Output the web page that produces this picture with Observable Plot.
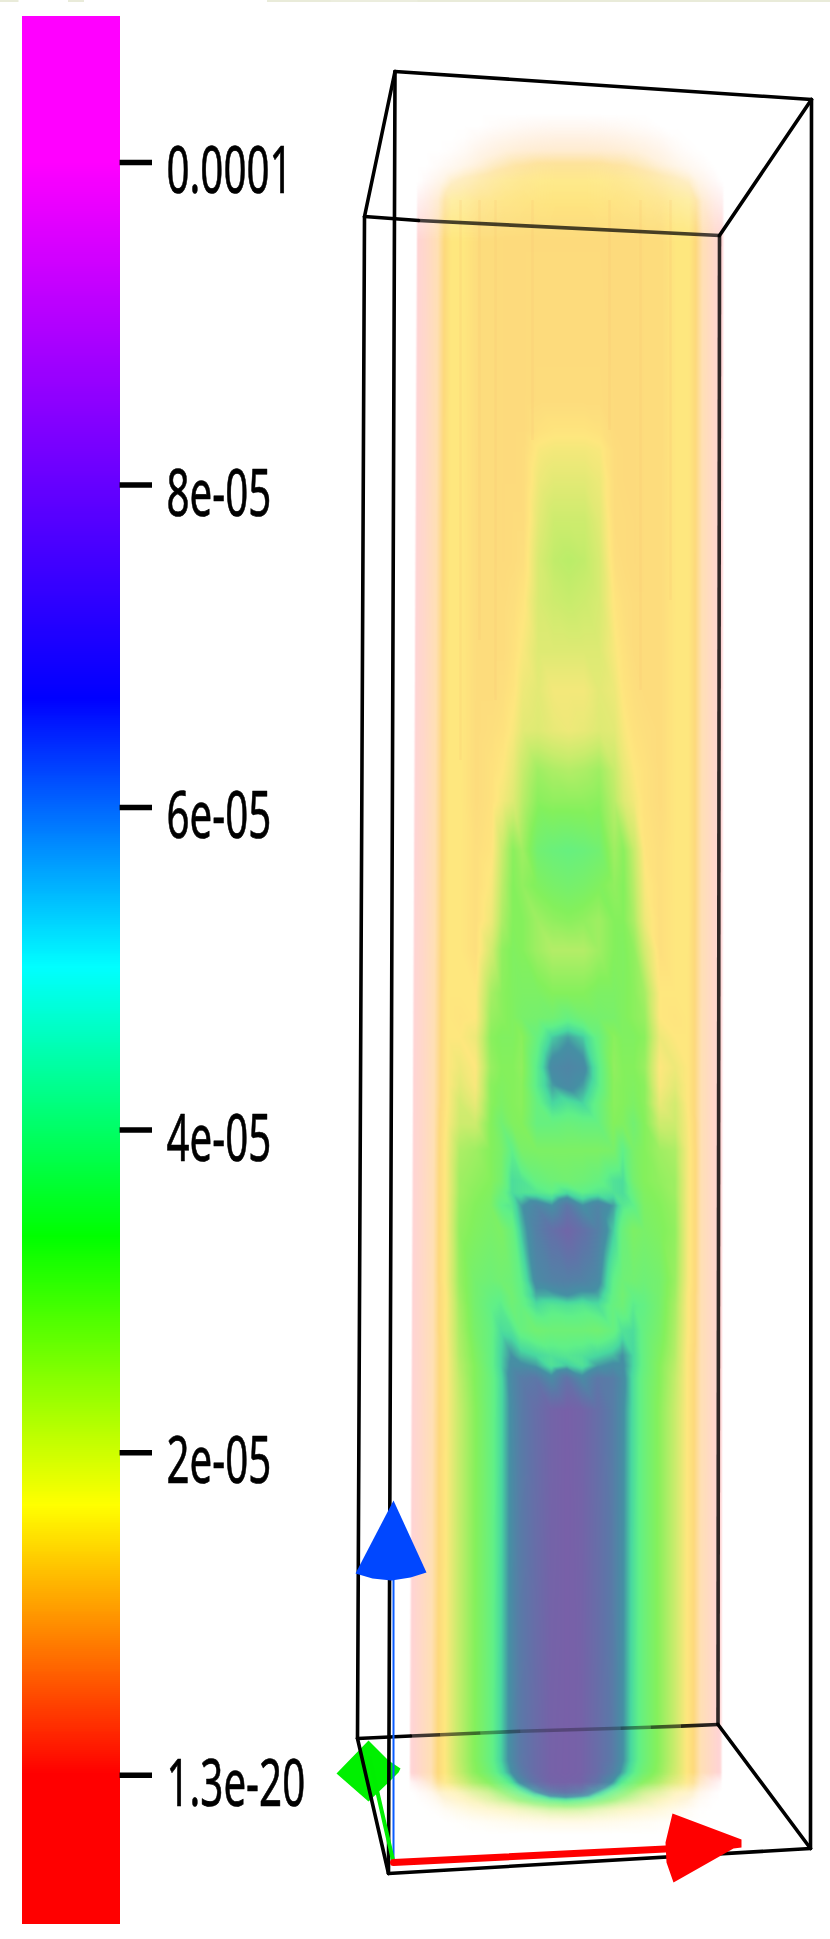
<!DOCTYPE html>
<html><head><meta charset="utf-8">
<script src="https://cdn.jsdelivr.net/npm/d3@7"></script>
<script src="https://cdn.jsdelivr.net/npm/@observablehq/plot@0.6"></script>
<style>
html,body{margin:0;padding:0;background:#fff}
#page{display:flex;width:830px;height:1939px;overflow:hidden}
svg{display:block;flex:none}
.soft{filter:blur(.55px)}
</style></head><body><div id="page"></div>
<script>
// ---- colour bar ----
const tickValues = [1.3e-20, 2e-5, 4e-5, 6e-5, 8e-5, 1e-4];
const tickLabels = ["1.3e-20", "2e-05", "4e-05", "6e-05", "8e-05", "0.0001"];
const windowDomain = [-1.0188e-5, 1.10045e-4];
const barDomain = [-0.926e-5, 1.0899e-4];
const rainbowStops = [0, 1.667e-5, 3.333e-5, 5e-5, 6.667e-5, 1e-4];
const rainbowColors = ["#ff0000", "#ffff00", "#00ff00", "#00ffff", "#0000ff", "#ff00ff"];

// ---- strip of window chrome along the top edge ----
const stripSegments = [[0, 18.5], [68, 84], [267, 830]];

// ---- volume: rendered shade and opacity read along each image row, mirrored about the axis ----
const shadeStops = [0, 1, 2, 2.5, 3, 4, 5, 6, 6.5, 7, 8, 9];
const shadeColors = ["#ffffff", "#ffd4d4", "#ffe0b4", "#fdd97c", "#fee77e", "#c8ec6c", "#84f05c", "#60f088", "#48d8a0", "#4590a4", "#5f75a8", "#7860a8"];
const radial = [0, .1, .2, .3, .36, .43, .5, .6, .7, .78, .87, .95, 1];
const rowY = [105, 113, 125, 137, 150, 165, 180, 200, 240, 400, 430, 450, 480, 520, 560, 600, 650, 690, 730, 770, 800, 850, 885, 920, 950, 993, 1017, 1037, 1067, 1085, 1103, 1123, 1150, 1180, 1192, 1205, 1230, 1280, 1295, 1305, 1330, 1355, 1365, 1378, 1410, 1760, 1772, 1782, 1792, 1800, 1810, 1822, 1834];
const rowShade = [
[1.5,1.5,1.5,1.5,1.5,1.5,1.5,1.4,1.3,1.2,1.1,1,1],
[1.5,1.5,1.5,1.5,1.5,1.5,1.5,1.4,1.3,1.2,1.1,1,1],
[1.6,1.6,1.6,1.6,1.6,1.6,1.5,1.4,1.3,1.2,1.1,1,1],
[1.8,1.8,1.8,1.8,1.8,1.8,1.7,1.6,1.5,1.3,1.1,1,1],
[2,2,2,2,2,2,1.9,1.8,1.7,1.5,1.2,1,1],
[2.6,2.6,2.6,2.5,2.5,2.4,2.3,2.1,2,1.8,1.5,1.1,1],
[3,3,3,2.9,2.9,2.9,2.8,2.7,2.6,2.4,1.8,1.2,1],
[2.9,2.9,2.9,2.85,2.85,2.85,2.85,2.8,3,3,2,1.3,1],
[2.55,2.55,2.55,2.55,2.55,2.55,2.6,2.6,3,3,2,1.3,1],
[2.6,2.6,2.6,2.55,2.55,2.55,2.6,2.6,3,3,2,1.3,1],
[2.9,2.9,2.8,2.55,2.55,2.55,2.6,2.6,3,3,2,1.3,1],
[3.2,3.2,3.1,2.6,2.55,2.55,2.6,2.6,3,3,2,1.3,1],
[3.5,3.5,3.3,2.6,2.55,2.55,2.6,2.6,3,3,2,1.3,1],
[3.9,3.9,3.5,2.6,2.6,2.55,2.6,2.6,3,3,2,1.3,1],
[4.2,4.1,3.7,2.7,2.6,2.55,2.6,2.6,3,3,2,1.3,1],
[4,3.9,3.7,2.9,2.7,2.6,2.6,2.6,3,3,2,1.3,1],
[3.6,3.6,3.6,3.1,2.8,2.6,2.6,2.6,3,3,2,1.3,1],
[3.2,3.2,3.5,3.3,2.9,2.7,2.6,2.6,3,3,2,1.3,1],
[3.3,3.4,3.6,3.5,3.1,2.8,2.7,2.6,3,3,2,1.3,1],
[4.3,4.4,4.6,4,3.4,3,2.8,2.6,3,3,2,1.3,1],
[4.8,4.8,4.9,4.2,3.6,3.2,2.8,2.6,3,3,2,1.3,1],
[5.8,5.7,5.5,4.6,4.9,4,2.9,2.7,3,3,2,1.3,1],
[5.4,5.3,5.1,4.8,5,4.2,3.1,2.7,3,3,2,1.3,1],
[4.9,4.8,4.6,5,5,4.4,3.3,2.7,3,3,2,1.3,1],
[4.3,4.3,4.6,5,5.1,4.8,3.8,2.7,3,3,2,1.3,1],
[5,5,5.2,5.2,5.1,4.9,4.5,3,3,3,2,1.3,1],
[5.8,5.5,5.4,5.3,5.1,4.9,4.7,3,2.9,3,2,1.3,1],
[6.9,6.6,5.8,4.9,5.1,5.1,4.9,3.3,3,3,2,1.3,1],
[7.4,7.2,6.1,4.8,5,5,4.7,3,3.3,3,2,1.3,1],
[7.2,6.9,6.1,4.9,5,5.1,4.9,3.1,3.5,3,2,1.3,1],
[6.3,6.5,5.8,4.9,5,5.2,4.9,3.4,3.8,3,2,1.3,1],
[5.7,5.8,5.8,5,5.1,5.5,5,3.9,3.9,3.1,2,1.3,1],
[5.2,5.2,5.2,5.3,6,5.3,5,4.6,4.4,3.2,2,1.3,1],
[5.5,5.6,5.8,6.3,6.4,5.4,5,4.8,4.6,3.2,2,1.3,1],
[6.4,6,6.2,6.3,6.4,5.7,5.1,4.9,4.6,3.2,2,1.3,1],
[7.9,7,7.4,6.9,6.2,6,5.2,5,4.7,3.2,2,1.3,1],
[8.7,8.2,7.6,6.6,5.7,5.2,5.3,5.1,4.8,3.2,2,1.3,1],
[7.6,7.5,7.2,6,5.6,5.5,5.6,5.4,4.7,3.2,2,1.3,1],
[7,6.8,6.8,5.9,5.5,5.9,5.8,5.4,4.6,3.1,2,1.3,1],
[6.3,6.2,6.4,5.8,5.6,6.1,5.9,5.4,4.5,3.1,2,1.3,1],
[5.6,5.6,5.5,5.8,6.3,6.4,5.8,5.3,4.4,3.1,2,1.3,1],
[6.2,6.3,6.5,6.7,7,6.5,5.8,5.1,4.3,3,2,1.3,1],
[6.6,6.3,6.9,7.1,7.1,6.5,5.8,5,4.2,3,2,1.3,1],
[8.1,7.2,7.9,7.7,7.2,6.4,5.7,5,4.1,3,2,1.3,1],
[9,8.8,8.3,7.7,7.1,6.4,5.7,4.9,4,3,2,1.3,1],
[9,8.9,8.4,7.8,7.1,6.4,5.7,4.9,4,3,2,1.3,.9],
[9,8.9,8.4,7.6,6.9,6.2,5.5,4.8,3.9,3,2,1.3,.9],
[8.9,8.8,8.1,7,6.2,5.6,5,4.4,3.6,3,2,1.2,.9],
[8.1,7.8,6.8,5.9,5.4,4.8,4.2,3.8,3.1,2.9,2,1.3,.9],
[6.2,6,5.6,5,4.6,4.2,3.8,3.2,2.9,2.5,2,1.3,.9],
[4.2,4.2,3.9,3.5,3.2,3.1,3,3,2.9,2.5,2,1.3,.9],
[2.9,2.9,2.9,2.9,2.9,2.9,2.9,2.8,2.8,2.5,2,1.3,.9],
[2.9,2.9,2.9,2.9,2.9,2.9,2.9,2.8,2.8,2.5,2,1.3,.9]
];
const zeroAlpha = [0,0,0,0,0,0,0,0,0,0,0,0,0];
const capTopAlpha = [
zeroAlpha, zeroAlpha,
[.2,.2,.19,.16,.13,.1,.07,0,0,0,0,0,0],
[.42,.42,.4,.36,.33,.28,.24,.15,.04,0,0,0,0],
[.62,.62,.6,.56,.52,.46,.4,.3,.14,.06,0,0,0],
[.78,.78,.76,.72,.68,.62,.56,.45,.3,.2,.1,0,0],
[.9,.9,.88,.85,.82,.78,.72,.62,.5,.42,.28,.14,0],
[.98,.98,.96,.94,.92,.9,.86,.82,.75,.7,.6,.45,.35]
];
const capBottomAlpha = [
[1,1,1,1,1,.95,.95,.95,.9,.85,.7,.45,.25],
[.98,.96,.9,.82,.78,.74,.7,.62,.5,.42,.26,.1,0],
[.9,.85,.78,.72,.66,.62,.56,.48,.36,.26,.12,.02,0],
[.55,.52,.46,.42,.4,.36,.32,.26,.16,.08,.02,0,0],
[.18,.18,.16,.14,.12,.1,.08,.05,.02,0,0,0,0],
zeroAlpha
];
const rowAlpha = [...capTopAlpha, ...Array(rowY.length - capTopAlpha.length - capBottomAlpha.length).fill(1), ...capBottomAlpha];
// silhouette of the volume: image x of its axis and half width, top and bottom
const axisTop = [570, 152], axisBottom = [565, 155];
const streakX = [460, 479, 495, 532, 609, 640, 670];
const streakEnd = [760, 640, 700, 440, 430, 690, 600];

// ---- bounding box and axes triad ----
const boxEdges = [
  {a:[394.5,71], b:[811,99], o:1}, {a:[394.5,71], b:[364,216], o:1},
  {a:[811,99], b:[719,235], o:1}, {a:[364,216], b:[418,220], o:1},
  {a:[418,220], b:[719,235], o:.72},
  {a:[394.5,71], b:[388,1873], o:1}, {a:[364,216], b:[357,1738], o:1},
  {a:[811,99], b:[810,1848], o:1}, {a:[719,235], b:[717.5,1724], o:.82},
  {a:[357,1738], b:[410,1735.5], o:1}, {a:[410,1735.5], b:[440,1734.2], o:.75},
  {a:[440,1734.2], b:[480,1732.5], o:.55}, {a:[480,1732.5], b:[520,1730.7], o:.38},
  {a:[520,1730.7], b:[620,1727.8], o:.28}, {a:[620,1727.8], b:[650,1726.8], o:.42},
  {a:[650,1726.8], b:[680,1725.6], o:.62}, {a:[680,1725.6], b:[717.5,1724], o:.85},
  {a:[717.5,1724], b:[810,1848], o:1}, {a:[357,1738], b:[388,1873], o:1},
  {a:[388,1873], b:[810,1848], o:1}
];
const shaftBlue = [[393,1862],[393,1570]];
const shaftRed = [[393,1862],[675,1848]];
const shaftGreen = [[393,1862],[369,1757]];
const coneBlue = [[393,1500],[426,1572],[410,1577],[391,1580],[372,1578],[355,1573]];
const coneRed = [[741,1839],[741,1847],[733,1848],[673,1882],[666,1862],[665,1842],[672,1813]];
const coneGreen = [[368,1740],[388,1760],[400,1768],[398,1772],[388,1782],[368,1801],[336,1773]];

const volumePoints = [];
rowY.forEach((y, r) => {
  const t = (y - 105) / (1834 - 105);
  const c = axisTop[0] + (axisBottom[0] - axisTop[0]) * t;
  const h = axisTop[1] + (axisBottom[1] - axisTop[1]) * t;
  radial.forEach((u, i) => {
    const s = rowShade[r][i];
    const a = Array.isArray(rowAlpha[r]) ? rowAlpha[r][i] : rowAlpha[r];
    volumePoints.push({x: c + u * h, y, s, a});
    if (u) volumePoints.push({x: c - u * h, y, s, a});
  });
  const rimAlpha = Array.isArray(rowAlpha[r]) ? rowAlpha[r][12] : 1;
  volumePoints.push({x: c + 1.012 * h, y, s: 0, a: rimAlpha}, {x: c - 1.012 * h, y, s: 0, a: rimAlpha});
});

const toPts = a => a.map(([x, y]) => ({x, y}));
const levels = d3.range(barDomain[0], barDomain[1], 1.2e-7);
const page = document.getElementById("page");

const barPlot = Plot.plot({
  width: 330, height: 1939, margin: 0,
  x: {domain: [0, 330], range: [0, 330], axis: null},
  y: {domain: windowDomain, range: [1939, 0], axis: null},
  color: {type: "linear", domain: rainbowStops, range: rainbowColors, clamp: true, interpolate: "rgb"},
  style: {background: "transparent"},
  marks: [
    Plot.rect(stripSegments.filter(d => d[0] < 330), {x1: d => d[0], x2: d => Math.min(d[1], 330), y1: () => windowDomain[1], y2: () => windowDomain[1] - 1.24e-7, fill: "#e9ebd9"}),
    Plot.rect(levels, {x1: () => 22, x2: () => 119.6, y1: d => d, y2: d => d + 1.4e-7, fill: d => d, shapeRendering: "crispEdges"}),
    Plot.ruleY(tickValues, {x1: () => 119.6, x2: () => 152, y: d => d, stroke: "#000", strokeWidth: 5.5}),
    Plot.text(tickValues, {x: () => 166, y: d => d, text: (d, i) => tickLabels[i], textAnchor: "start", lineAnchor: "middle", dy: 10, fontSize: 65, fontFamily: "Noto Sans", fill: "#000", stroke: "#000", strokeWidth: .7, className: "soft"})
  ]
});
d3.select(barPlot).selectAll("text").each(function () {
  const tr = this.getAttribute("transform");
  if (tr) this.setAttribute("transform", tr + " scale(.62,1)");
});

const boxLine = e => [{x: e.a[0], y: e.a[1]}, {x: e.b[0], y: e.b[1]}];
const scenePlot = Plot.plot({
  width: 500, height: 1939, margin: 0,
  x: {domain: [330, 830], range: [0, 500], axis: null},
  y: {domain: [0, 1939], range: [0, 1939], axis: null},
  color: {type: "linear", domain: shadeStops, range: shadeColors, clamp: true, interpolate: "rgb"},
  opacity: {type: "linear", domain: [0, 1], range: [0, 1]},
  style: {background: "transparent"},
  marks: [
    Plot.rect(stripSegments.filter(d => d[1] > 330), {x1: d => Math.max(d[0], 330), x2: d => d[1], y1: () => 0, y2: () => 2, fill: "#e9ebd9"}),
    Plot.raster(volumePoints, {x: "x", y: "y", fill: "s", fillOpacity: "a", interpolate: "barycentric", pixelSize: 1}),
    Plot.ruleX(streakX, {x: d => d, y1: () => 200, y2: (d, i) => streakEnd[i], stroke: "#fcc272", strokeOpacity: .2, strokeWidth: 2.5}),
    Plot.line(toPts(coneGreen), {x: "x", y: "y", fill: "#00f000", stroke: "none"}),
    ...boxEdges.map(e => Plot.line(boxLine(e), {x: "x", y: "y", stroke: "#000", strokeOpacity: e.o, strokeWidth: 3.6, strokeLinecap: e.o === 1 ? "round" : "butt", className: "soft"})),
    Plot.line(toPts(shaftBlue), {x: "x", y: "y", stroke: "#0a5cff", strokeWidth: 2}),
    Plot.line(toPts(coneBlue), {x: "x", y: "y", fill: "#0047ff", stroke: "none"}),
    Plot.line(toPts(shaftGreen), {x: "x", y: "y", stroke: "#00ee00", strokeWidth: 4}),
    Plot.line(toPts(shaftRed), {x: "x", y: "y", stroke: "#ff0000", strokeWidth: 7}),
    Plot.line(toPts(coneRed), {x: "x", y: "y", fill: "#ff0000", stroke: "none"})
  ]
});
page.append(barPlot, scenePlot);
</script></body></html>
